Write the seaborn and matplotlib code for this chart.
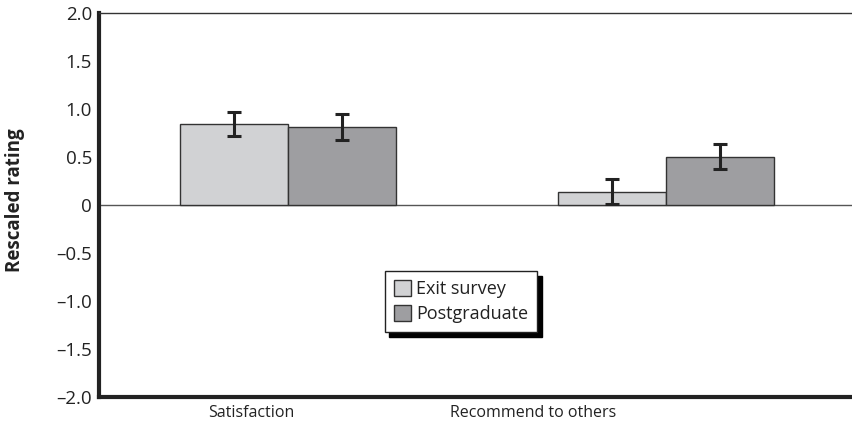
import matplotlib
matplotlib.use("Agg")
import matplotlib.pyplot as plt
import seaborn as sns
import pandas as pd

# values
measures = ["Satisfaction", "Recommend to others"]
groups = ["Exit survey", "Postgraduate"]
exit_means = [0.84, 0.135]
exit_err_lo = [0.72, 0.01]
exit_err_hi = [0.97, 0.27]
post_means = [0.81, 0.50]
post_err_lo = [0.68, 0.375]
post_err_hi = [0.95, 0.63]

yticks = [-2.0, -1.5, -1.0, -0.5, 0, 0.5, 1.0, 1.5, 2.0]
ytick_labels = ["\u20132.0", "\u20131.5", "\u20131.0", "\u20130.5", "0",
                "0.5", "1.0", "1.5", "2.0"]

sns.set_style("white")
plt.rcParams["font.family"] = ["Open Sans", "DejaVu Sans"]

df = pd.DataFrame({
    "measure": measures * 2,
    "group": [groups[0]] * 2 + [groups[1]] * 2,
    "rating": exit_means + post_means,
})

fig = plt.figure(figsize=(8.53, 4.32), dpi=100)
ax = fig.add_axes([0.116, 0.081, 0.886, 0.889])

sns.barplot(data=df, x="measure", y="rating", hue="group", order=measures,
            hue_order=groups, palette=["#d1d2d4", "#9d9ea1"], width=0.573,
            errorbar=None, edgecolor="#333333", linewidth=1.0, ax=ax,
            zorder=2)

lows = [exit_err_lo, post_err_lo]
highs = [exit_err_hi, post_err_hi]
for cont, lo, hi in zip(ax.containers, lows, highs):
    for bar, l, h in zip(cont, lo, hi):
        xc = bar.get_x() + bar.get_width() / 2
        mid = (l + h) / 2
        ax.errorbar(xc, mid, yerr=[[mid - l], [h - mid]], fmt="none",
                    ecolor="#222222", elinewidth=2.2, capsize=5.2,
                    capthick=2.2, zorder=3)

ax.axhline(0, color="#555555", lw=1.0, zorder=1)

ax.set_xlim(-0.5, 1.5)
ax.set_ylim(-2.0, 2.0)
ax.set_yticks(yticks)
ax.set_yticklabels(ytick_labels, fontsize=13.5, color="#222222")
ax.tick_params(axis="y", direction="in", length=16.5, width=1.0,
               color="#555555", pad=5)
ax.set_xticks([-0.097, 0.649])
ax.set_xticklabels(measures, fontsize=11.5, color="#222222")
ax.tick_params(axis="x", length=0, pad=6)
ax.set_xlabel("")
ax.set_ylabel("Rescaled rating", fontsize=13.5, fontweight="bold",
              color="#222222")
ax.yaxis.set_label_coords(-0.098, 0.513)

for s in ["left", "bottom"]:
    ax.spines[s].set_linewidth(3.0)
    ax.spines[s].set_color("#222222")
ax.spines["top"].set_linewidth(1.0)
ax.spines["top"].set_color("#333333")
ax.spines["right"].set_visible(False)

leg = ax.legend(loc="upper left", bbox_to_anchor=(0.378, 0.328),
                borderaxespad=0, frameon=True, fancybox=False,
                fontsize=13, handlelength=0.95, handleheight=0.95,
                handletextpad=0.3, labelspacing=0.4, borderpad=0.5,
                shadow={"ox": 3.5, "oy": -3.5, "color": "black", "alpha": 1})
leg.get_frame().set_edgecolor("#222222")
leg.get_frame().set_linewidth(1.0)
for t in leg.get_texts():
    t.set_color("#222222")

fig.savefig("out.png", dpi=100)
